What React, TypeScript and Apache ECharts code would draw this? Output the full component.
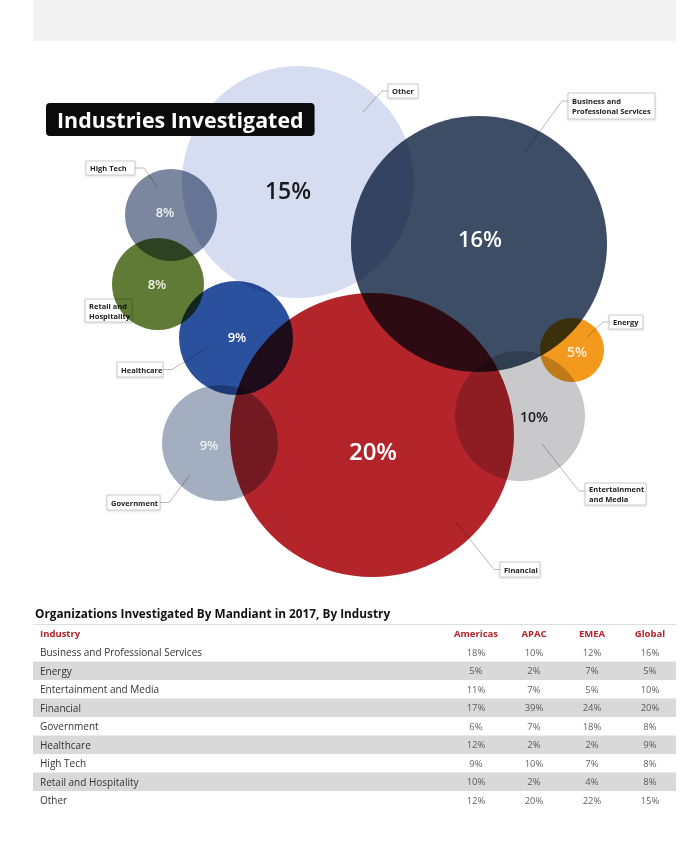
import React, { useEffect, useRef } from 'react';
import * as echarts from 'echarts';

// ---- Data ----
const industries = [
  'Business and Professional Services',
  'Energy',
  'Entertainment and Media',
  'Financial',
  'Government',
  'Healthcare',
  'High Tech',
  'Retail and Hospitality',
  'Other',
];
const regions = ['Americas', 'APAC', 'EMEA', 'Global'];
const americas = [18, 5, 11, 17, 6, 12, 9, 10, 12];
const apac = [10, 2, 7, 39, 7, 2, 10, 2, 20];
const emea = [12, 7, 5, 24, 18, 2, 7, 4, 22];
const globalShare = [16, 5, 10, 20, 8, 9, 8, 8, 15];
// values printed inside the bubbles (the graphic shows Government as 9%)
const bubbleShare = [16, 5, 10, 20, 9, 9, 8, 8, 15];
const calloutText = [
  'Business and\nProfessional Services',
  'Energy',
  'Entertainment\nand Media',
  'Financial',
  'Government',
  'Healthcare',
  'High Tech',
  'Retail and\nHospitality',
  'Other',
];

// ---- Bubble layout (chart units) ----
const bubbleX = [479, 572, 520, 372, 220, 236, 171, 158, 298];
const bubbleY = [244, 350, 416, 435, 443, 338, 215, 284, 182];
const bubbleR = [128, 32, 65, 142, 58, 57, 46, 46, 116];

// ---- Styles ----
const bubbleColors = ['#3e4d66', '#f39a1e', '#c9c9cb', '#b3242b', '#a3aec0', '#2b519e', '#7a879e', '#5f7b35', '#d6ddf1'];
const labelColors = ['#ffffff', '#fdf0da', '#1a1a1a', '#ffffff', '#eef0f4', '#ffffff', '#eef0f4', '#f2f2ea', '#1a1a1a'];
const labelSizes = [22, 14, 14, 24, 13, 13, 13, 13, 23];
const labelOffsets = [[1, -6], [5, 1], [14, 0], [1, 15], [-11, 2], [1, -1], [-6, -3], [-1, 0], [-10, 8]];
const calloutBox = [
  [568, 93, 87, 26], [609, 315, 34, 14], [585, 483, 61, 22], [500, 562, 40, 15],
  [107, 495, 53, 15], [117, 362, 46, 15], [86, 161, 49, 14], [85, 299, 47, 23], [388, 84, 30, 14],
];
const calloutAnchor: (number[] | null)[] = [
  [46, -92], [15, -13], [22, 28], [84, 87], [-30, 32], [-29, 10], [-14, -28], null, [65, -70],
];

const FONT = '"Open Sans", "Noto Sans", sans-serif';
const RED = '#b3242b';

const css = bubbleColors
  .map((c) => `#bubble-chart path[fill="${c}"]{mix-blend-mode:multiply;}`)
  .join('\n');

export default function App() {
  const ref = useRef<HTMLDivElement>(null);

  useEffect(() => {
    document.body.style.margin = '0';
    const chart = echarts.init(ref.current!, null, { renderer: 'svg' });

    const bubbleData = industries.map((name, i) => ({
      name,
      value: [bubbleX[i], bubbleY[i], bubbleShare[i]],
      symbolSize: bubbleR[i] * 2,
      itemStyle: { color: bubbleColors[i], opacity: 1 },
      label: { offset: labelOffsets[i], color: labelColors[i], fontSize: labelSizes[i] },
    }));

    const regionValues = [americas, apac, emea, globalShare];
    const tableData: any[] = [];
    industries.forEach((ind, i) => {
      regions.forEach((r, j) => {
        tableData.push([r, ind, regionValues[j][i]]);
      });
    });

    const ROW_TOP = 643;
    const ROW_H = 18.5 * industries.length;

    chart.setOption({
      animation: false,
      backgroundColor: '#ffffff',
      title: [
        {
          text: 'Industries Investigated',
          left: 46,
          top: 103,
          backgroundColor: '#0b0b0b',
          borderRadius: 4,
          padding: [5, 11, 5, 11],
          textStyle: { color: '#fff', fontSize: 21.4, fontWeight: 'bold', fontFamily: FONT, lineHeight: 23 },
        },
        {
          text: 'Organizations Investigated By Mandiant in 2017, By Industry',
          left: 35,
          top: 607,
          padding: 0,
          textStyle: { color: '#111', fontSize: 11.8, fontWeight: 'bold', fontFamily: FONT },
        },
      ],
      grid: [
        { left: 0, top: 0, width: 700, height: 600 },
        { left: 33, top: ROW_TOP, width: 643, height: ROW_H },
        { left: 447, top: ROW_TOP, width: 232, height: ROW_H },
      ],
      xAxis: [
        { gridIndex: 0, type: 'value', min: 0, max: 700, show: false },
        { gridIndex: 1, type: 'value', min: 0, max: 1, show: false },
        {
          gridIndex: 2,
          type: 'category',
          data: regions,
          position: 'top',
          axisLine: { show: false },
          axisTick: { show: false },
          splitLine: { show: false },
          axisLabel: { color: RED, fontSize: 9.5, fontWeight: 'bold', fontFamily: FONT, margin: 5 },
        },
      ],
      yAxis: [
        { gridIndex: 0, type: 'value', min: 0, max: 600, inverse: true, show: false },
        {
          gridIndex: 1,
          type: 'category',
          data: industries,
          inverse: true,
          axisLine: { show: false },
          axisTick: { show: false },
          splitLine: { show: false },
          splitArea: { show: true, areaStyle: { color: ['rgba(0,0,0,0)', '#d9d9da'] } },
          axisLabel: { inside: true, margin: 7, color: '#333', fontSize: 10, fontFamily: FONT },
          name: 'Industry',
          nameLocation: 'start',
          nameGap: 10,
          nameTextStyle: {
            color: RED, fontSize: 9.5, fontWeight: 'bold', fontFamily: FONT,
            align: 'left', verticalAlign: 'middle', padding: [0, 0, 0, 7],
          },
        },
        { gridIndex: 2, type: 'category', data: industries, inverse: true, show: false },
      ],
      series: [
        {
          type: 'scatter',
          xAxisIndex: 0,
          yAxisIndex: 0,
          blendMode: 'multiply',
          data: bubbleData,
          symbol: 'circle',
          label: {
            show: true,
            position: 'inside',
            fontFamily: FONT,
            fontWeight: 600,
            formatter: (p: any) => p.value[2] + '%',
          },
          emphasis: { disabled: true },
        },
        {
          type: 'scatter',
          xAxisIndex: 2,
          yAxisIndex: 2,
          data: tableData,
          symbolSize: 1,
          itemStyle: { color: 'rgba(0,0,0,0)' },
          label: {
            show: true,
            position: 'inside',
            color: '#3a3a3a',
            fontSize: 9.5,
            fontFamily: FONT,
            formatter: (p: any) => p.value[2] + '%',
          },
          emphasis: { disabled: true },
        },
      ],
    });

    const graphics: any[] = [
      {
        type: 'rect',
        z: 1,
        shape: { x: 33, y: 0, width: 643, height: 41 },
        style: { fill: '#f3f3f3' },
      },
      {
        type: 'line',
        z: 1,
        shape: { x1: 33, y1: 624.5, x2: 676, y2: 624.5 },
        style: { stroke: '#dedede', lineWidth: 1 },
      },
    ];

    industries.forEach((_, i) => {
      const [bx, by, bw, bh] = calloutBox[i];
      const children: any[] = [];
      const a = calloutAnchor[i];
      if (a) {
        const c = chart.convertToPixel({ xAxisIndex: 0, yAxisIndex: 0 }, [bubbleX[i], bubbleY[i]]) as number[];
        const ax = c[0] + a[0];
        const ay = c[1] + a[1];
        const leftSide = ax < bx;
        const sx = leftSide ? bx : bx + bw;
        const sy = by + Math.min(bh / 2, 8);
        const ex = leftSide ? sx - 6 : sx + 9;
        children.push({
          type: 'polyline',
          shape: { points: [[sx, sy], [ex, sy], [ax, ay]] },
          style: { stroke: '#a8a8a8', lineWidth: 0.8, fill: 'none' },
        });
      }
      children.push({
        type: 'rect',
        shape: { x: bx, y: by, width: bw, height: bh },
        style: {
          fill: '#ffffff', stroke: '#bdbdbd', lineWidth: 0.8,
          shadowBlur: 2, shadowColor: 'rgba(0,0,0,0.15)', shadowOffsetY: 1,
        },
      });
      children.push({
        type: 'text',
        style: {
          text: calloutText[i],
          x: bx + 4,
          y: by + bh / 2,
          verticalAlign: 'middle',
          align: 'left',
          fontSize: 7.5,
          fontWeight: 'bold',
          fontFamily: FONT,
          lineHeight: 10,
          fill: '#222',
        },
      });
      graphics.push({ type: 'group', z: 100, children });
    });

    chart.setOption({ graphic: graphics });

    return () => chart.dispose();
  }, []);

  return (
    <>
      <style>{css}</style>
      <div id="bubble-chart" ref={ref} style={{ width: 700, height: 854 }} />
    </>
  );
}
